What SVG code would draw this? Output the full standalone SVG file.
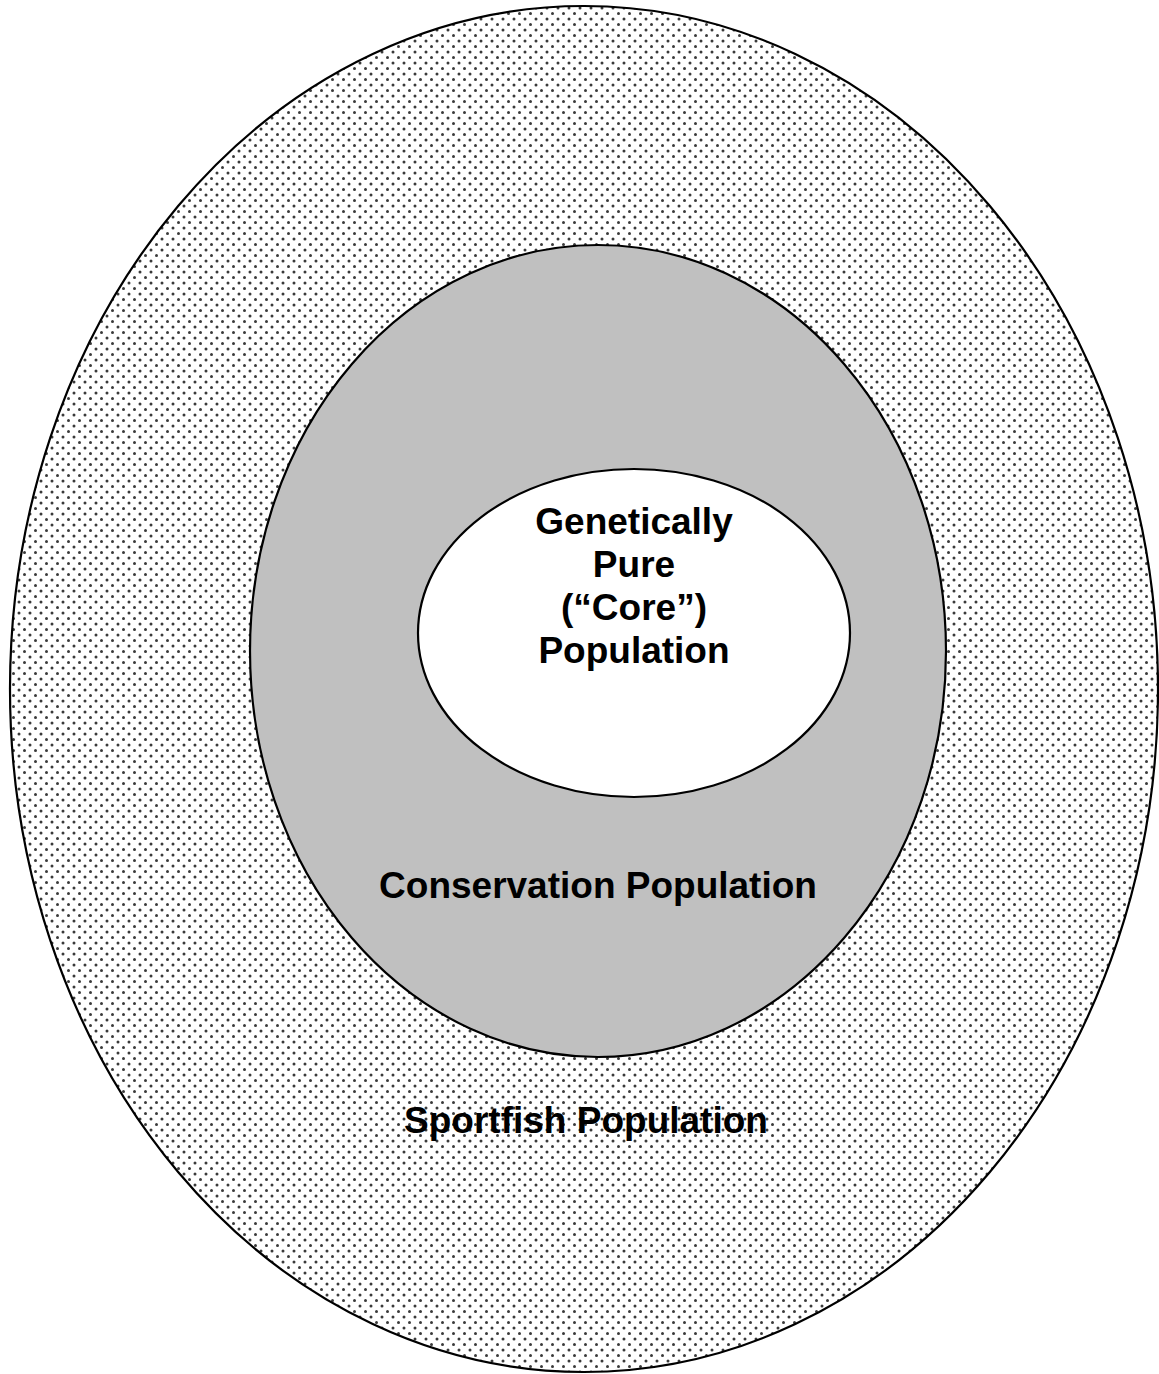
<svg xmlns="http://www.w3.org/2000/svg" width="1159" height="1374" viewBox="0 0 1159 1374">
<defs>
<pattern id="dots" x="0" y="0" width="11" height="11" patternUnits="userSpaceOnUse">
<rect width="11" height="11" fill="#ffffff"/>
<circle cx="2.5" cy="2.5" r="1.5" fill="#3a3a3a"/>
<circle cx="8" cy="8" r="1.5" fill="#3a3a3a"/>
</pattern>
<style>
.lbl{font-family:"Liberation Sans",Arial,sans-serif;font-weight:bold;font-size:37px;fill:#000;text-anchor:middle}
.ring{stroke:#000;stroke-width:2.2}
</style>
</defs>
<rect width="1159" height="1374" fill="#ffffff"/>
<g id="sportfish">
<ellipse class="ring" cx="584" cy="689" rx="574" ry="683" fill="url(#dots)"/>
<text class="lbl" x="586" y="1133">Sportfish Population</text>
</g>
<g id="conservation">
<ellipse class="ring" cx="598" cy="651" rx="348" ry="406" fill="#c0c0c0"/>
<text class="lbl" x="598" y="898">Conservation Population</text>
</g>
<g id="core">
<ellipse class="ring" cx="634" cy="633" rx="216" ry="164" fill="#ffffff"/>
<text class="lbl" x="634" y="534">Genetically</text>
<text class="lbl" x="634" y="577">Pure</text>
<text class="lbl" x="634" y="620">(“Core”)</text>
<text class="lbl" x="634" y="663">Population</text>
</g>
<g id="connectors"/>
</svg>
